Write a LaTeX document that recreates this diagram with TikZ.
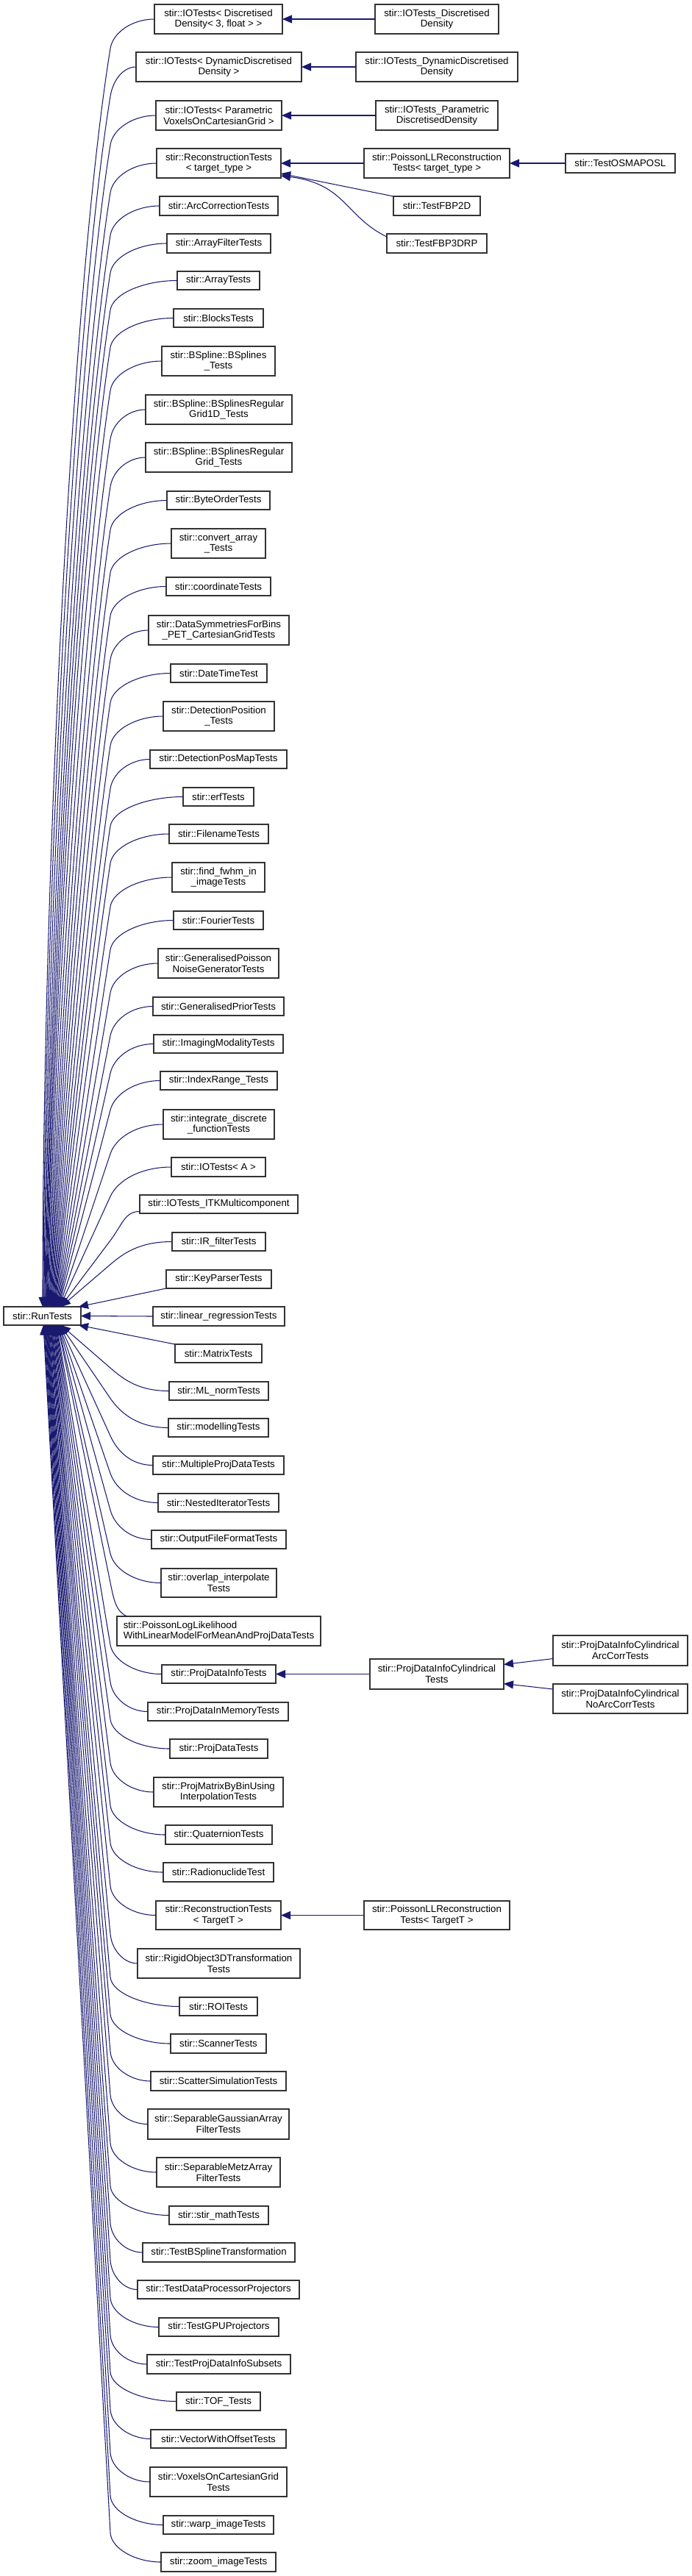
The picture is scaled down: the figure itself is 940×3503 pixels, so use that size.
\documentclass[tikz,border=0pt]{standalone}
\usepackage{fontspec}
\setmainfont{Liberation Sans}
\usetikzlibrary{arrows.meta,calc}
\definecolor{edgeblue}{RGB}{25,25,112}
\tikzset{
  box/.style={draw=black!80, fill=white, line width=1.1pt, outer sep=0pt,
    inner xsep=2pt, inner ysep=1pt, align=center,
    font=\fontsize{13.3}{14.7}\selectfont},
  edge/.style={draw=edgeblue, line width=1.05pt,
    -{Triangle[length=13pt,width=11pt]}, color=edgeblue}
}
% node from pixel box x1 x2 y1 y2
\newcommand\kid[6]{%
  \node[box, minimum width={#3-#2}, minimum height={#5-#4}] (#1) at ({(#2+#3)/2},{(#4+#5)/2}) {#6};}
% #1 start coord, #2 x0, #3 yc, #4 ye, #5 s, #6 end anchor, #7 curvature
\newcommand\coreedge[7]{%
  \pgfmathsetmacro\myD{abs(#4-#3)}%
  \pgfmathsetmacro\myU{(#7)*min(max((\myD-500)/1250,0),1)}%
  \pgfmathsetmacro\myXE{83-25*min(max((\myD-89)/1660,0),1)}%
  \pgfmathsetmacro\myH{min(40,0.35*\myD)}%
  \pgfmathsetmacro\myEy{#3+(#5)*\myH}%
  \pgfmathsetmacro\myDY{\myD-\myH}%
  \pgfmathsetmacro\myDX{150-\myXE}%
  \pgfmathsetmacro\myW{(0.19+0.38*\myU)*\myDX}%
  \pgfmathsetmacro\myM{\myW/(0.19*\myDY)}%
  \pgfmathsetmacro\myAx{(#2+150)/2}%
  \pgfmathsetmacro\myBx{150+\myM*0.55*\myH}%
  \pgfmathsetmacro\myBy{\myEy-(#5)*0.55*\myH}%
  \pgfmathsetmacro\myCx{150-\myW}%
  \pgfmathsetmacro\myCy{\myEy+(#5)*0.19*\myDY}%
  \pgfmathsetmacro\myGx{\myXE+0.34*(1-\myU)*\myDX}%
  \pgfmathsetmacro\myGy{#4-(#5)*0.34*\myDY}%
  \draw[edge] (#1) .. controls (\myAx,#3) and (\myBx,\myBy) .. (150,\myEy)
     .. controls (\myCx,\myCy) and (\myGx,\myGy) .. ($(#6)+(\myXE-5,0)$);}
\newcommand\kidU[6]{\kid{#1}{#2}{#3}{#4}{#5}{#6}%
  \pgfmathsetmacro\myYC{(#4+#5)/2}%
  \coreedge{#1.west}{#2}{\myYC}{1777}{1}{rt.north west}{1}}
\newcommand\kidD[6]{\kid{#1}{#2}{#3}{#4}{#5}{#6}%
  \pgfmathsetmacro\myYC{(#4+#5)/2}%
  \coreedge{#1.west}{#2}{\myYC}{1802}{-1}{rt.south west}{0}}
\begin{document}
\begin{tikzpicture}[x=1pt,y=-1pt]
\useasboundingbox (0,0) rectangle (940,3503);
\fill[white] (0,0) rectangle (940,3503);

\kid{rt}{5}{110}{1777}{1802}{stir::RunTests}

% ---- children above RunTests
\kidU{iodd}{210}{384}{6}{46}{stir::IOTests< Discretised\\Density< 3, float > >}
\kidU{iodyn}{185}{410}{71}{111}{stir::IOTests< DynamicDiscretised\\Density >}
\kidU{iopar}{212}{383}{137}{177}{stir::IOTests< Parametric\\VoxelsOnCartesianGrid >}
\kidU{rectt}{213}{382}{202}{242}{stir::ReconstructionTests\\< target\_type >}
\kidU{arccorr}{217}{378}{267}{293}{stir::ArcCorrectionTests}
\kidU{arrayfilter}{227}{368}{318}{344}{stir::ArrayFilterTests}
\kidU{array}{241}{353}{369}{394}{stir::ArrayTests}
\kidU{blocks}{236}{358}{420}{445}{stir::BlocksTests}
\kidU{bsplines}{220}{374}{471}{511}{stir::BSpline::BSplines\\\_Tests}
\kidU{bsrgoned}{198}{397}{537}{577}{stir::BSpline::BSplinesRegular\\Grid1D\_Tests}
\kidU{bsrg}{198}{397}{602}{642}{stir::BSpline::BSplinesRegular\\Grid\_Tests}
\kidU{byteorder}{227}{367}{668}{693}{stir::ByteOrderTests}
\kidU{convarray}{233}{361}{719}{759}{stir::convert\_array\\\_Tests}
\kidU{coordinate}{226}{368}{785}{810}{stir::coordinateTests}
\kidU{datasym}{202}{393}{837}{877}{stir::DataSymmetriesForBins\\\_PET\_CartesianGridTests}
\kidU{datetime}{232}{363}{903}{928}{stir::DateTimeTest}
\kidU{detpos}{222}{373}{954}{994}{stir::DetectionPosition\\\_Tests}
\kidU{detposmap}{204}{390}{1020}{1045}{stir::DetectionPosMapTests}
\kidU{erf}{249}{345}{1071}{1096}{stir::erfTests}
\kidU{filename}{230}{365}{1121}{1147}{stir::FilenameTests}
\kidU{fwhm}{234}{360}{1173}{1213}{stir::find\_fwhm\_in\\\_imageTests}
\kidU{fourier}{236}{358}{1239}{1264}{stir::FourierTests}
\kidU{gpng}{215}{379}{1290}{1330}{stir::GeneralisedPoisson\\NoiseGeneratorTests}
\kidU{gprior}{208}{386}{1356}{1381}{stir::GeneralisedPriorTests}
\kidU{imaging}{209}{385}{1407}{1432}{stir::ImagingModalityTests}
\kidU{indexrange}{218}{377}{1457}{1482}{stir::IndexRange\_Tests}
\kidU{integrate}{222}{373}{1509}{1549}{stir::integrate\_discrete\\\_functionTests}
\kidU{ioa}{233}{361}{1574}{1600}{stir::IOTests< A >}
\kid{ioitk}{190}{405}{1625}{1650}{stir::IOTests\_ITKMulticomponent}
\coreedge{$(ioitk.west)+(0,10)$}{190}{1647}{1777}{1}{rt.north west}{1}
\kidU{irfilter}{234}{361}{1676}{1701}{stir::IR\_filterTests}
\kid{keyparser}{226}{369}{1727}{1752}{stir::KeyParserTests}
\draw[edge] (keyparser.south west) -- ($(rt.north east)+(-3,0)$);
\kid{linreg}{208}{387}{1777}{1803}{stir::linear\_regressionTests}
\draw[edge] (linreg.west) -- (rt.east);
\kid{matrix}{238}{356}{1828}{1853}{stir::MatrixTests}
\draw[edge] (matrix.north west) -- ($(rt.south east)+(-3,0)$);

% ---- children below RunTests
\kidD{mlnorm}{230}{365}{1879}{1904}{stir::ML\_normTests}
\kidD{modelling}{229}{365}{1929}{1954}{stir::modellingTests}
\kidD{multiproj}{208}{386}{1980}{2005}{stir::MultipleProjDataTests}
\kidD{nested}{215}{379}{2031}{2056}{stir::NestedIteratorTests}
\kidD{outputff}{206}{389}{2081}{2106}{stir::OutputFileFormatTests}
\kidD{overlap}{219}{376}{2133}{2172}{stir::overlap\_interpolate\\Tests}
\node[box, align=left, minimum width=277, minimum height=40] (poissonlog) at (297.5,2218)
  {stir::PoissonLogLikelihood\\WithLinearModelForMeanAndProjDataTests};
\coreedge{$(poissonlog.north west)+(14,0)$}{165}{2192}{1802}{-1}{rt.south west}{0}
\kidD{pdinfo}{220}{375}{2264}{2289}{stir::ProjDataInfoTests}
\kidD{pdinmem}{201}{392}{2315}{2340}{stir::ProjDataInMemoryTests}
\kidD{projdata}{231}{364}{2365}{2391}{stir::ProjDataTests}
\kidD{pmbb}{209}{385}{2417}{2457}{stir::ProjMatrixByBinUsing\\InterpolationTests}
\kidD{quaternion}{225}{370}{2482}{2508}{stir::QuaternionTests}
\kidD{radionuclide}{222}{372}{2533}{2559}{stir::RadionuclideTest}
\kidD{recT}{212}{382}{2585}{2624}{stir::ReconstructionTests\\< TargetT >}
\kidD{rigid}{187}{408}{2650}{2690}{stir::RigidObject3DTransformation\\Tests}
\kidD{roi}{244}{350}{2716}{2741}{stir::ROITests}
\kidD{scanner}{232}{362}{2766}{2792}{stir::ScannerTests}
\kidD{scatter}{205}{389}{2817}{2843}{stir::ScatterSimulationTests}
\kidD{sepgauss}{201}{393}{2868}{2909}{stir::SeparableGaussianArray\\FilterTests}
\kidD{sepmetz}{213}{381}{2934}{2974}{stir::SeparableMetzArray\\FilterTests}
\kidD{stirmath}{230}{365}{3000}{3025}{stir::stir\_mathTests}
\kidD{bsplinetrans}{194}{401}{3050}{3076}{stir::TestBSplineTransformation}
\kidD{dataproc}{187}{407}{3101}{3126}{stir::TestDataProcessorProjectors}
\kidD{gpu}{216}{379}{3152}{3177}{stir::TestGPUProjectors}
\kidD{pdisubsets}{200}{395}{3202}{3228}{stir::TestProjDataInfoSubsets}
\kidD{tof}{240}{354}{3253}{3278}{stir::TOF\_Tests}
\kidD{vwo}{205}{389}{3304}{3329}{stir::VectorWithOffsetTests}
\kidD{voxels}{204}{390}{3355}{3395}{stir::VoxelsOnCartesianGrid\\Tests}
\kidD{warp}{222}{372}{3421}{3446}{stir::warp\_imageTests}
\kidD{zoom}{219}{375}{3471}{3497}{stir::zoom\_imageTests}

% ---- second-level classes
\kid{ioddd}{510}{678}{6}{46}{stir::IOTests\_Discretised\\Density}
\kid{iodynd}{484}{704}{71}{111}{stir::IOTests\_DynamicDiscretised\\Density}
\kid{ioparD}{511}{677}{137}{177}{stir::IOTests\_Parametric\\DiscretisedDensity}
\kid{plltt}{495}{693}{202}{242}{stir::PoissonLLReconstruction\\Tests< target\_type >}
\kid{osmaposl}{769}{918}{209}{235}{stir::TestOSMAPOSL}
\kid{fbptwod}{535}{653}{267}{293}{stir::TestFBP2D}
\kid{fbpthreed}{526}{662}{318}{344}{stir::TestFBP3DRP}
\kid{pdicyl}{503}{685}{2256}{2297}{stir::ProjDataInfoCylindrical\\Tests}
\kid{pdiarc}{752}{935}{2224}{2265}{stir::ProjDataInfoCylindrical\\ArcCorrTests}
\kid{pdinoarc}{752}{935}{2290}{2330}{stir::ProjDataInfoCylindrical\\NoArcCorrTests}
\kid{pllT}{495}{693}{2585}{2624}{stir::PoissonLLReconstruction\\Tests< TargetT >}

\draw[edge] (ioddd.west) -- (iodd.east);
\draw[edge] (iodynd.west) -- (iodyn.east);
\draw[edge] (ioparD.west) -- (iopar.east);
\draw[edge] (plltt.west) -- (rectt.east);
\draw[edge] (osmaposl.west) -- (plltt.east);
\draw[edge] (fbptwod.north west) -- ($(rectt.east)+(0,14)$);
\draw[edge] ($(fbpthreed.west)+(0,-9)$) .. controls (470,295) and (470,250) .. ($(rectt.east)+(0,17)$);
\draw[edge] (pdicyl.west) -- (pdinfo.east);
\draw[edge] ($(pdiarc.west)+(0,11)$) -- ($(pdicyl.east)+(0,-13)$);
\draw[edge] ($(pdinoarc.west)+(0,-13)$) -- ($(pdicyl.east)+(0,13)$);
\draw[edge] (pllT.west) -- (recT.east);
\end{tikzpicture}
\end{document}
